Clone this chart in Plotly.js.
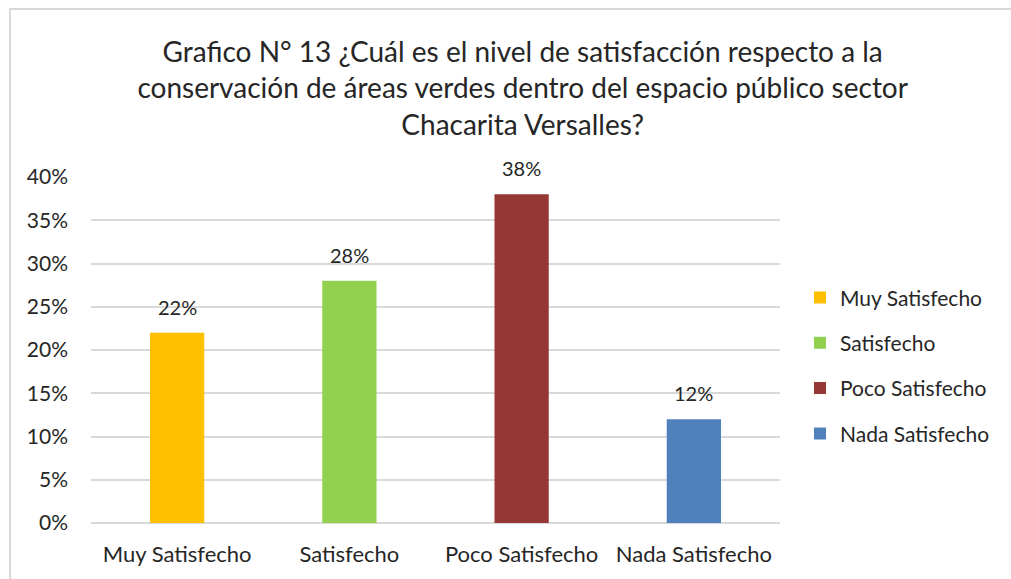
<!DOCTYPE html>
<html>
<head>
<meta charset="utf-8">
<script src="https://cdn.plot.ly/plotly-3.0.1.min.js"></script>
<style>
html,body{margin:0;padding:0;background:#fff;}
#wrap{position:relative;width:1011px;height:579px;}
#chart{position:absolute;left:0;top:0;width:1011px;height:579px;}
#frame{position:absolute;left:9px;top:8px;right:0;bottom:0;border-left:2px solid #d9d9d9;border-top:2px solid #d9d9d9;pointer-events:none;}
</style>
</head>
<body>
<div id="wrap"><div id="chart"></div><div id="frame"></div></div>
<script>
const categories = ["Muy Satisfecho", "Satisfecho", "Poco Satisfecho", "Nada Satisfecho"];
const values = [0.22, 0.28, 0.38, 0.12];
const colors = ["#FFC000", "#92D050", "#953735", "#4F81BD"];
const tickVals = [0, 0.05, 0.10, 0.15, 0.20, 0.25, 0.30, 0.35, 0.40];
const tickText = ["0%", "5%", "10%", "15%", "20%", "25%", "30%", "35%", "40%"];
const titleText = "Grafico N° 13 ¿Cuál es el nivel de satisfacción respecto a la<br>conservación de áreas verdes dentro del espacio público sector<br>Chacarita Versalles?";

const FONT = "Lato, 'Open Sans', sans-serif";
const TXT = "#262626";

const traces = categories.map((c, i) => ({
  type: "bar",
  name: c,
  x: [c],
  y: [values[i]],
  marker: {color: colors[i]},
  width: 0.315,
  legendgroup: "g" + i,
  hoverinfo: "skip"
}));

const labels = categories.map((c, i) => ({
  x: c,
  y: values[i],
  xref: "x",
  yref: "y",
  text: Math.round(values[i] * 100) + "%",
  showarrow: false,
  yanchor: "bottom",
  yshift: 12,
  font: {family: FONT, size: 20, color: TXT}
}));

const layout = {
  width: 1011,
  height: 579,
  margin: {l: 91, r: 231, t: 177, b: 56},
  paper_bgcolor: "#ffffff",
  plot_bgcolor: "#ffffff",
  barmode: "overlay",
  title: {
    text: titleText,
    font: {family: FONT, size: 28, color: TXT},
    x: 0.517,
    xanchor: "center",
    xref: "container",
    yref: "container",
    y: 0.893,
    yanchor: "middle"
  },
  annotations: labels,
  xaxis: {
    type: "category",
    categoryorder: "array",
    categoryarray: categories,
    tickfont: {family: FONT, size: 22, color: TXT},
    showgrid: false,
    showline: false,
    ticks: "",
    zeroline: false,
    ticklabelstandoff: 16
  },
  yaxis: {
    range: [0, 0.40],
    tickvals: tickVals,
    ticktext: tickText,
    tickfont: {family: FONT, size: 21, color: TXT},
    showgrid: true,
    gridcolor: "#d9d9d9",
    gridwidth: 2,
    zeroline: true,
    zerolinecolor: "#d9d9d9",
    zerolinewidth: 2,
    showline: false,
    ticks: "",
    ticklabelstandoff: 22
  },
  showlegend: true,
  legend: {
    x: 1.029,
    xref: "paper",
    xanchor: "left",
    y: 0.71,
    yanchor: "top",
    font: {family: FONT, size: 21, color: TXT},
    tracegroupgap: 15,
    itemwidth: 30,
    traceorder: "grouped",
    bgcolor: "rgba(0,0,0,0)"
  },
  font: {family: FONT, color: TXT}
};

Plotly.newPlot("chart", traces, layout, {displayModeBar: false, staticPlot: true});
</script>
</body>
</html>
